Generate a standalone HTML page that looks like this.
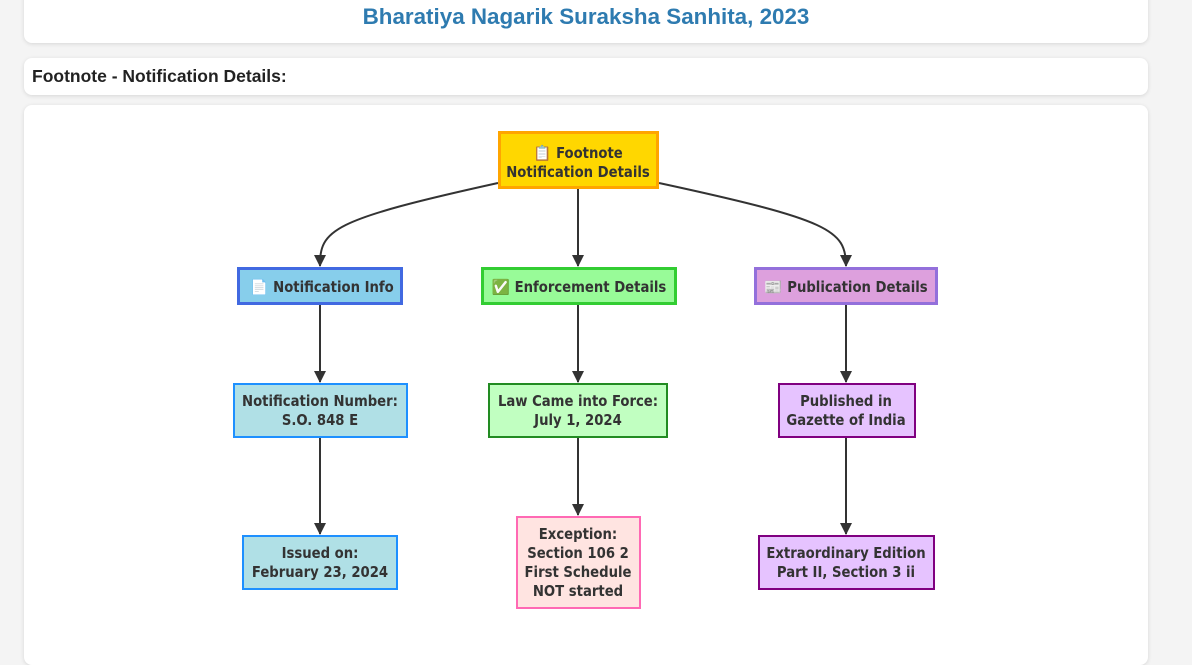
<!DOCTYPE html>
<html><head><meta charset="utf-8"><style>
html,body{margin:0;padding:0;width:1192px;height:636px;overflow:hidden;background:#f4f4f4;font-family:"Liberation Sans",sans-serif;}
.card{position:absolute;left:24px;width:1124px;background:#fff;border-radius:8px;box-shadow:0 1px 4px rgba(0,0,0,0.12);}
</style></head><body>
<div class="card" style="top:-10px;height:53px;"><div style="position:absolute;top:14px;width:100%;text-align:center;color:#2e7bb0;font-weight:bold;font-size:22.4px;">Bharatiya Nagarik Suraksha Sanhita, 2023</div></div>
<div class="card" style="top:58px;height:37px;"><div style="position:absolute;left:8px;top:8px;color:#222;font-weight:bold;font-size:17.5px;">Footnote - Notification Details:</div></div>
<div class="card" style="top:105px;height:560px;"></div>
<svg width="1192" height="636" style="position:absolute;left:0;top:0" font-family="DejaVu Sans Condensed, DejaVu Sans, sans-serif" font-weight="bold" font-size="14.7" fill="#333">
<defs><marker id="a" markerWidth="12" markerHeight="12" refX="11" refY="6" orient="auto" markerUnits="userSpaceOnUse"><path d="M0,0L12,6L0,12z" fill="#333"/></marker></defs>
<g stroke="#333" stroke-width="2" fill="none" marker-end="url(#a)">
<path d="M498,183 C330,220 320,230 320,266"/>
<path d="M578,189 L578,266"/>
<path d="M659,183 C830,220 846,230 846,266"/>
<path d="M320,304 L320,382"/>
<path d="M578,304 L578,382"/>
<path d="M846,304 L846,382"/>
<path d="M320,437 L320,534"/>
<path d="M578,437 L578,515"/>
<path d="M846,437 L846,534"/>
</g>
<rect x="499.5" y="132.5" width="158" height="55" fill="#ffd700" stroke="#ffa500" stroke-width="3"/>
<rect x="238.5" y="268.5" width="163" height="35" fill="#87ceeb" stroke="#4169e1" stroke-width="3"/>
<rect x="482.5" y="268.5" width="193" height="35" fill="#98fb98" stroke="#32cd32" stroke-width="3"/>
<rect x="755.5" y="268.5" width="181" height="35" fill="#dda0dd" stroke="#9370db" stroke-width="3"/>
<rect x="234" y="384" width="173" height="53" fill="#b0e0e6" stroke="#1e90ff" stroke-width="2"/>
<rect x="489" y="384" width="178" height="53" fill="#c1ffc1" stroke="#228b22" stroke-width="2"/>
<rect x="779" y="384" width="136" height="53" fill="#e6c3ff" stroke="#800080" stroke-width="2"/>
<rect x="243" y="536" width="154" height="53" fill="#b0e0e6" stroke="#1e90ff" stroke-width="2"/>
<rect x="517" y="517" width="123" height="91" fill="#ffe4e1" stroke="#ff69b4" stroke-width="2"/>
<rect x="759" y="536" width="175" height="53" fill="#e6c3ff" stroke="#800080" stroke-width="2"/>
<g text-anchor="middle">
<text x="578" y="158">📋 Footnote</text>
<text x="578" y="177">Notification Details</text>
<text x="322" y="292">📄 Notification Info</text>
<text x="579" y="292">✅ Enforcement Details</text>
<text x="846" y="292">📰 Publication Details</text>
<text x="320" y="406">Notification Number:</text>
<text x="320" y="425">S.O. 848 E</text>
<text x="578" y="406">Law Came into Force:</text>
<text x="578" y="425">July 1, 2024</text>
<text x="846" y="406">Published in</text>
<text x="846" y="425">Gazette of India</text>
<text x="320" y="558">Issued on:</text>
<text x="320" y="577">February 23, 2024</text>
<text x="578" y="539">Exception:</text>
<text x="578" y="558">Section 106 2</text>
<text x="578" y="577">First Schedule</text>
<text x="578" y="596">NOT started</text>
<text x="846" y="558">Extraordinary Edition</text>
<text x="846" y="577">Part II, Section 3 ii</text>
</g>
</svg>
</body></html>
